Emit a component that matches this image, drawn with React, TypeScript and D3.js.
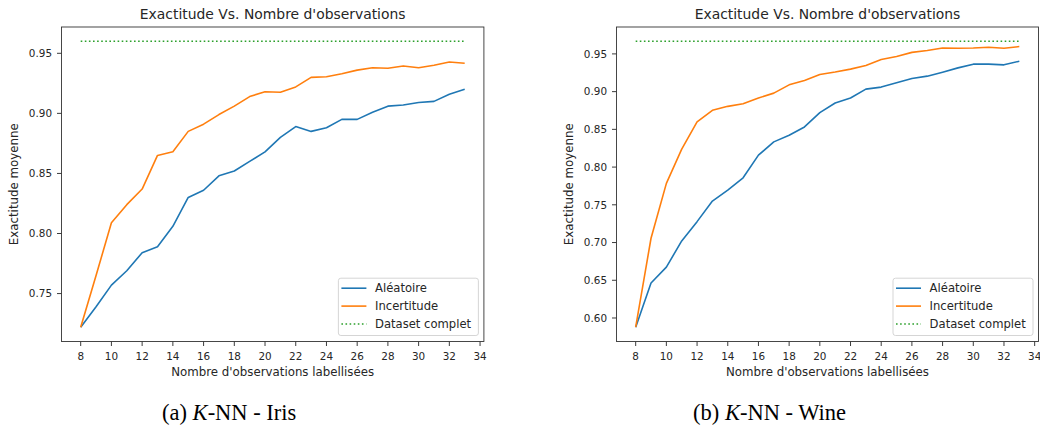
import React from "react";
import * as d3 from "d3";

// Number of labelled observations (x axis)
const sizes = [8, 9, 10, 11, 12, 13, 14, 15, 16, 17, 18, 19, 20, 21, 22, 23, 24, 25, 26, 27, 28, 29, 30, 31, 32, 33];

// Iris: mean accuracy per strategy
const irisRandom = [0.722, 0.739, 0.757, 0.769, 0.784, 0.789, 0.806, 0.83, 0.836, 0.848, 0.852, 0.86, 0.868, 0.88, 0.889, 0.885, 0.888, 0.895, 0.895, 0.901, 0.906, 0.907, 0.909, 0.91, 0.916, 0.92];
const irisUncertainty = [0.722, 0.765, 0.809, 0.824, 0.837, 0.865, 0.868, 0.885, 0.891, 0.899, 0.906, 0.914, 0.918, 0.9176, 0.922, 0.93, 0.9305, 0.933, 0.936, 0.938, 0.9375, 0.9395, 0.938, 0.94, 0.9428, 0.9417];
const irisFull = 0.96;

// Wine: mean accuracy per strategy
const wineRandom = [0.5878, 0.6463, 0.6674, 0.7022, 0.7277, 0.755, 0.7695, 0.7858, 0.8158, 0.8334, 0.8422, 0.8532, 0.8721, 0.8849, 0.8915, 0.9033, 0.906, 0.9117, 0.9174, 0.9205, 0.9258, 0.9315, 0.9364, 0.9364, 0.9355, 0.9403];
const wineUncertainty = [0.5878, 0.7057, 0.7784, 0.8237, 0.8598, 0.8752, 0.8805, 0.884, 0.8915, 0.898, 0.909, 0.9148, 0.9227, 0.926, 0.9298, 0.9346, 0.9425, 0.9465, 0.952, 0.9544, 0.9579, 0.9575, 0.9579, 0.9588, 0.9575, 0.9597];
const wineFull = 0.9667;

// Tick labels
const xTicks = [8, 10, 12, 14, 16, 18, 20, 22, 24, 26, 28, 30, 32, 34];
const irisYTicks = [0.75, 0.8, 0.85, 0.9, 0.95];
const wineYTicks = [0.6, 0.65, 0.7, 0.75, 0.8, 0.85, 0.9, 0.95];

const title = "Exactitude Vs. Nombre d'observations";
const xLabel = "Nombre d'observations labellisées";
const yLabel = "Exactitude moyenne";
const legendLabels = ["Aléatoire", "Incertitude", "Dataset complet"];

const BLUE = "#1f77b4";
const ORANGE = "#ff7f0e";
const GREEN = "#2ca02c";
const TEXT = "#262626";
const FONT = "'DejaVu Sans', sans-serif";

type PanelProps = {
  left: number;
  right: number;
  top: number;
  bottom: number;
  random: number[];
  uncertainty: number[];
  full: number;
  yTicks: number[];
};

function Panel({ left, right, top, bottom, random, uncertainty, full, yTicks }: PanelProps) {
  const xMin = d3.min(sizes)!;
  const xMax = d3.max(sizes)!;
  const xPad = (xMax - xMin) * 0.05;
  const x = d3.scaleLinear().domain([xMin - xPad, xMax + xPad]).range([left, right]);

  const allY = [...random, ...uncertainty, full];
  const yMin = d3.min(allY)!;
  const yMax = d3.max(allY)!;
  const yPad = (yMax - yMin) * 0.05;
  const y = d3.scaleLinear().domain([yMin - yPad, yMax + yPad]).range([bottom, top]);

  const line = d3
    .line<number>()
    .x((_, i) => x(sizes[i]))
    .y((v) => y(v));

  const fullLine = d3
    .line<number>()
    .x((s) => x(s))
    .y(() => y(full));

  const cx = (left + right) / 2;
  const cy = (top + bottom) / 2;

  // legend placed in the lower-right corner of the axes
  const lgW = 140;
  const lgH = 57.3;
  const lgX = right - 5.5 - lgW;
  const lgY = bottom - 6 - lgH;
  const rows = [
    { label: legendLabels[0], color: BLUE, dash: undefined as string | undefined },
    { label: legendLabels[1], color: ORANGE, dash: undefined },
    { label: legendLabels[2], color: GREEN, dash: "1.6 2.5" },
  ];

  return (
    <g>
      <text x={cx} y={18.5} textAnchor="middle" fontFamily={FONT} fontSize={13.9} fill={TEXT}>
        {title}
      </text>

      {/* x axis */}
      {xTicks.map((t) => (
        <g key={"x" + t}>
          <line x1={x(t)} x2={x(t)} y1={bottom} y2={bottom + 4.5} stroke={TEXT} strokeWidth={0.9} />
          <text x={x(t)} y={360} textAnchor="middle" fontFamily={FONT} fontSize={10.4} fill={TEXT}>
            {t}
          </text>
        </g>
      ))}
      <text x={cx} y={376} textAnchor="middle" fontFamily={FONT} fontSize={11.8} fill={TEXT}>
        {xLabel}
      </text>

      {/* y axis */}
      {yTicks.map((t) => (
        <g key={"y" + t}>
          <line x1={left - 4.5} x2={left} y1={y(t)} y2={y(t)} stroke={TEXT} strokeWidth={0.9} />
          <text x={left - 9.5} y={y(t)} dy="0.36em" textAnchor="end" fontFamily={FONT} fontSize={10.4} fill={TEXT}>
            {t.toFixed(2)}
          </text>
        </g>
      ))}
      <text
        transform={`translate(${left - 43.2},${cy}) rotate(-90)`}
        textAnchor="middle"
        fontFamily={FONT}
        fontSize={11.8}
        fill={TEXT}
      >
        {yLabel}
      </text>

      {/* series */}
      <path d={fullLine(sizes) ?? ""} fill="none" stroke={GREEN} strokeWidth={1.6} strokeDasharray="1.6 2.5" />
      <path d={line(random) ?? ""} fill="none" stroke={BLUE} strokeWidth={1.6} strokeLinejoin="round" />
      <path d={line(uncertainty) ?? ""} fill="none" stroke={ORANGE} strokeWidth={1.6} strokeLinejoin="round" />

      {/* frame */}
      <rect x={left} y={top} width={right - left} height={bottom - top} fill="none" stroke="#333" strokeWidth={0.9} />

      {/* legend */}
      <rect x={lgX} y={lgY} width={lgW} height={lgH} rx={2.5} fill="white" fillOpacity={0.8} stroke="#d0d0d0" strokeWidth={0.9} />
      {rows.map((r, i) => {
        const ry = lgY + 10 + i * 17.9;
        return (
          <g key={r.label}>
            <line x1={lgX + 3} x2={lgX + 28} y1={ry} y2={ry} stroke={r.color} strokeWidth={1.6} strokeDasharray={r.dash} />
            <text x={lgX + 36.6} y={ry} dy="0.36em" fontFamily={FONT} fontSize={11.6} fill={TEXT}>
              {r.label}
            </text>
          </g>
        );
      })}
    </g>
  );
}

function Caption({ x, tag, name }: { x: number; tag: string; name: string }) {
  return (
    <text x={x} y={420} fontFamily="'Liberation Serif', 'Times New Roman', serif" fontSize={22.5} fill="#000">
      {`(${tag}) `}
      <tspan fontStyle="italic">K</tspan>
      {`-NN - ${name}`}
    </text>
  );
}

export default function App() {
  return (
    <svg
      width={1040}
      height={438}
      viewBox="0 0 1040 438"
      style={{ position: "absolute", left: 0, top: 0, display: "block", background: "white" }}
    >
      <rect width={1040} height={438} fill="white" />
      <Panel
        left={61.5}
        right={483.9}
        top={27}
        bottom={341.5}
        random={irisRandom}
        uncertainty={irisUncertainty}
        full={irisFull}
        yTicks={irisYTicks}
      />
      <Panel
        left={616.5}
        right={1038.5}
        top={27}
        bottom={341.5}
        random={wineRandom}
        uncertainty={wineUncertainty}
        full={wineFull}
        yTicks={wineYTicks}
      />
      <Caption x={162} tag="a" name="Iris" />
      <Caption x={693} tag="b" name="Wine" />
    </svg>
  );
}
